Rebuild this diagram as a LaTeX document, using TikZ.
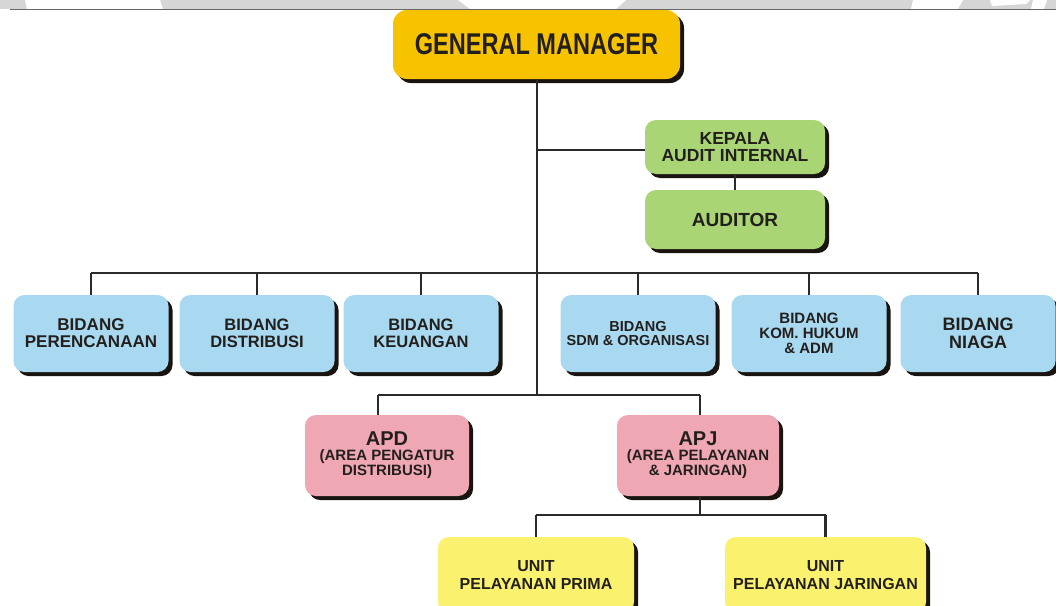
\documentclass[tikz,border=0pt]{standalone}
\usepackage{fontspec}
\setmainfont{Liberation Sans}
\usetikzlibrary{shadows}
\definecolor{gmc}{HTML}{F7C300}
\definecolor{greenc}{HTML}{A9D574}
\definecolor{bluec}{HTML}{A9D8F1}
\definecolor{pinkc}{HTML}{F0A7B4}
\definecolor{yellowc}{HTML}{FAF26E}
\definecolor{txt}{HTML}{231F1C}
\definecolor{linec}{HTML}{2A2A2A}
\definecolor{shadowc}{HTML}{1A1410}
\definecolor{wmgray}{HTML}{D6D6D6}
\begin{document}
\begin{tikzpicture}[x=1pt,y=-1pt,
  conn/.style={draw=linec, line width=2.4pt},
  box/.style={rounded corners=11pt, fill=#1, text=txt, align=center, inner sep=0pt,
    drop shadow={shadow xshift=4pt, shadow yshift=-4pt, fill=shadowc, opacity=1}},
  bluebox/.style={box=bluec, minimum width=155pt, minimum height=77pt},
  fs/.style={font={\bfseries\fontsize{#1}{#1}\selectfont}}
]
\useasboundingbox (0,0) rectangle (1056,605);
% top watermark strip
\fill[wmgray] (0,0) rectangle (1056,9);
\fill[white] (25,0) -- (160,0) -- (163,9) -- (27,9) -- cycle;
\fill[white] (458,0) -- (626,0) -- (616,9) -- (470,9) -- cycle;
\fill[white] (913,0) -- (963,0) -- (958,9) -- (911,9) -- cycle;
\fill[white] (990,0) -- (1030,0) -- (1026,4) -- (992,6) -- cycle;
\fill[white] (1033,0) -- (1047,0) -- (1044,9) -- (1031,9) -- cycle;
\draw[gray!80!black, line width=1.2pt] (10,9.5) -- (1056,9.5);

% nodes
\node[box=gmc, rounded corners=14pt, minimum width=287pt, minimum height=69pt,
  font={\bfseries\fontsize{30}{30}\selectfont}] (gm) at (536.5,44.5)
  {\scalebox{0.785}[1]{GENERAL MANAGER}};
\node[box=greenc, minimum width=180pt, minimum height=54pt, fs=17.5] (kep) at (735,147)
  {KEPALA\\AUDIT INTERNAL};
\node[box=greenc, minimum width=180pt, minimum height=59pt, fs=19] (aud) at (735,219.5)
  {AUDITOR};

\node[bluebox, fs=17] (b1) at (91,333.5) {BIDANG\\PERENCANAAN};
\node[bluebox, fs=16.5] (b2) at (257,333.5) {BIDANG\\DISTRIBUSI};
\node[bluebox, fs=16.5] (b3) at (421,333.5) {BIDANG\\KEUANGAN};
\node[bluebox, fs=14.5] (b4) at (638,333.5) {BIDANG\\SDM \& ORGANISASI};
\node[bluebox, fs=15] (b5) at (809,333.5) {BIDANG\\KOM. HUKUM\\\& ADM};
\node[bluebox, fs=18] (b6) at (978,333.5) {BIDANG\\NIAGA};

\node[box=pinkc, minimum width=164pt, minimum height=81pt, fs=15] (apd) at (387,455.5)
  {{\fontsize{20}{20}\selectfont APD}\\(AREA PENGATUR\\DISTRIBUSI)};
\node[box=pinkc, minimum width=162pt, minimum height=81pt, fs=15] (apj) at (698,455.5)
  {{\fontsize{20}{20}\selectfont APJ}\\(AREA PELAYANAN\\\& JARINGAN)};

\node[box=yellowc, minimum width=196pt, minimum height=76pt, fs=16] (u1) at (536,575)
  {UNIT\\[2pt]PELAYANAN PRIMA};
\node[box=yellowc, minimum width=201pt, minimum height=76pt, fs=16] (u2) at (825.5,575)
  {UNIT\\[2pt]PELAYANAN JARINGAN};

% junction coordinates
\coordinate (rowL) at (91,273);
\coordinate (rowR) at (978,273);
\coordinate (trunk) at (537,273);
\coordinate (ja) at (378,395);
\coordinate (jb) at (700,395);
\coordinate (ju) at (700,515);
\coordinate (audj) at (537,150);

% connectors
\draw[conn] (gm.south -| trunk) -- (trunk |- ja);
\draw[conn] (audj) -- (audj -| kep.west);
\draw[conn] (kep.south) -- (aud.north);
\draw[conn] (rowL) -- (rowR);
\foreach \b in {b1,b2,b3,b4,b5,b6} {
  \draw[conn] (\b.north |- rowL) -- (\b.north);
}
\draw[conn] (ja) -- (jb);
\draw[conn] (ja) -- (ja |- apd.north);
\draw[conn] (jb) -- (jb |- apj.north);
\draw[conn] (apj.south -| ju) -- (ju);
\draw[conn] (u1.north |- ju) -- (u2.north |- ju);
\draw[conn] (u1.north |- ju) -- (u1.north);
\draw[conn] (u2.north |- ju) -- (u2.north);
\end{tikzpicture}
\end{document}
